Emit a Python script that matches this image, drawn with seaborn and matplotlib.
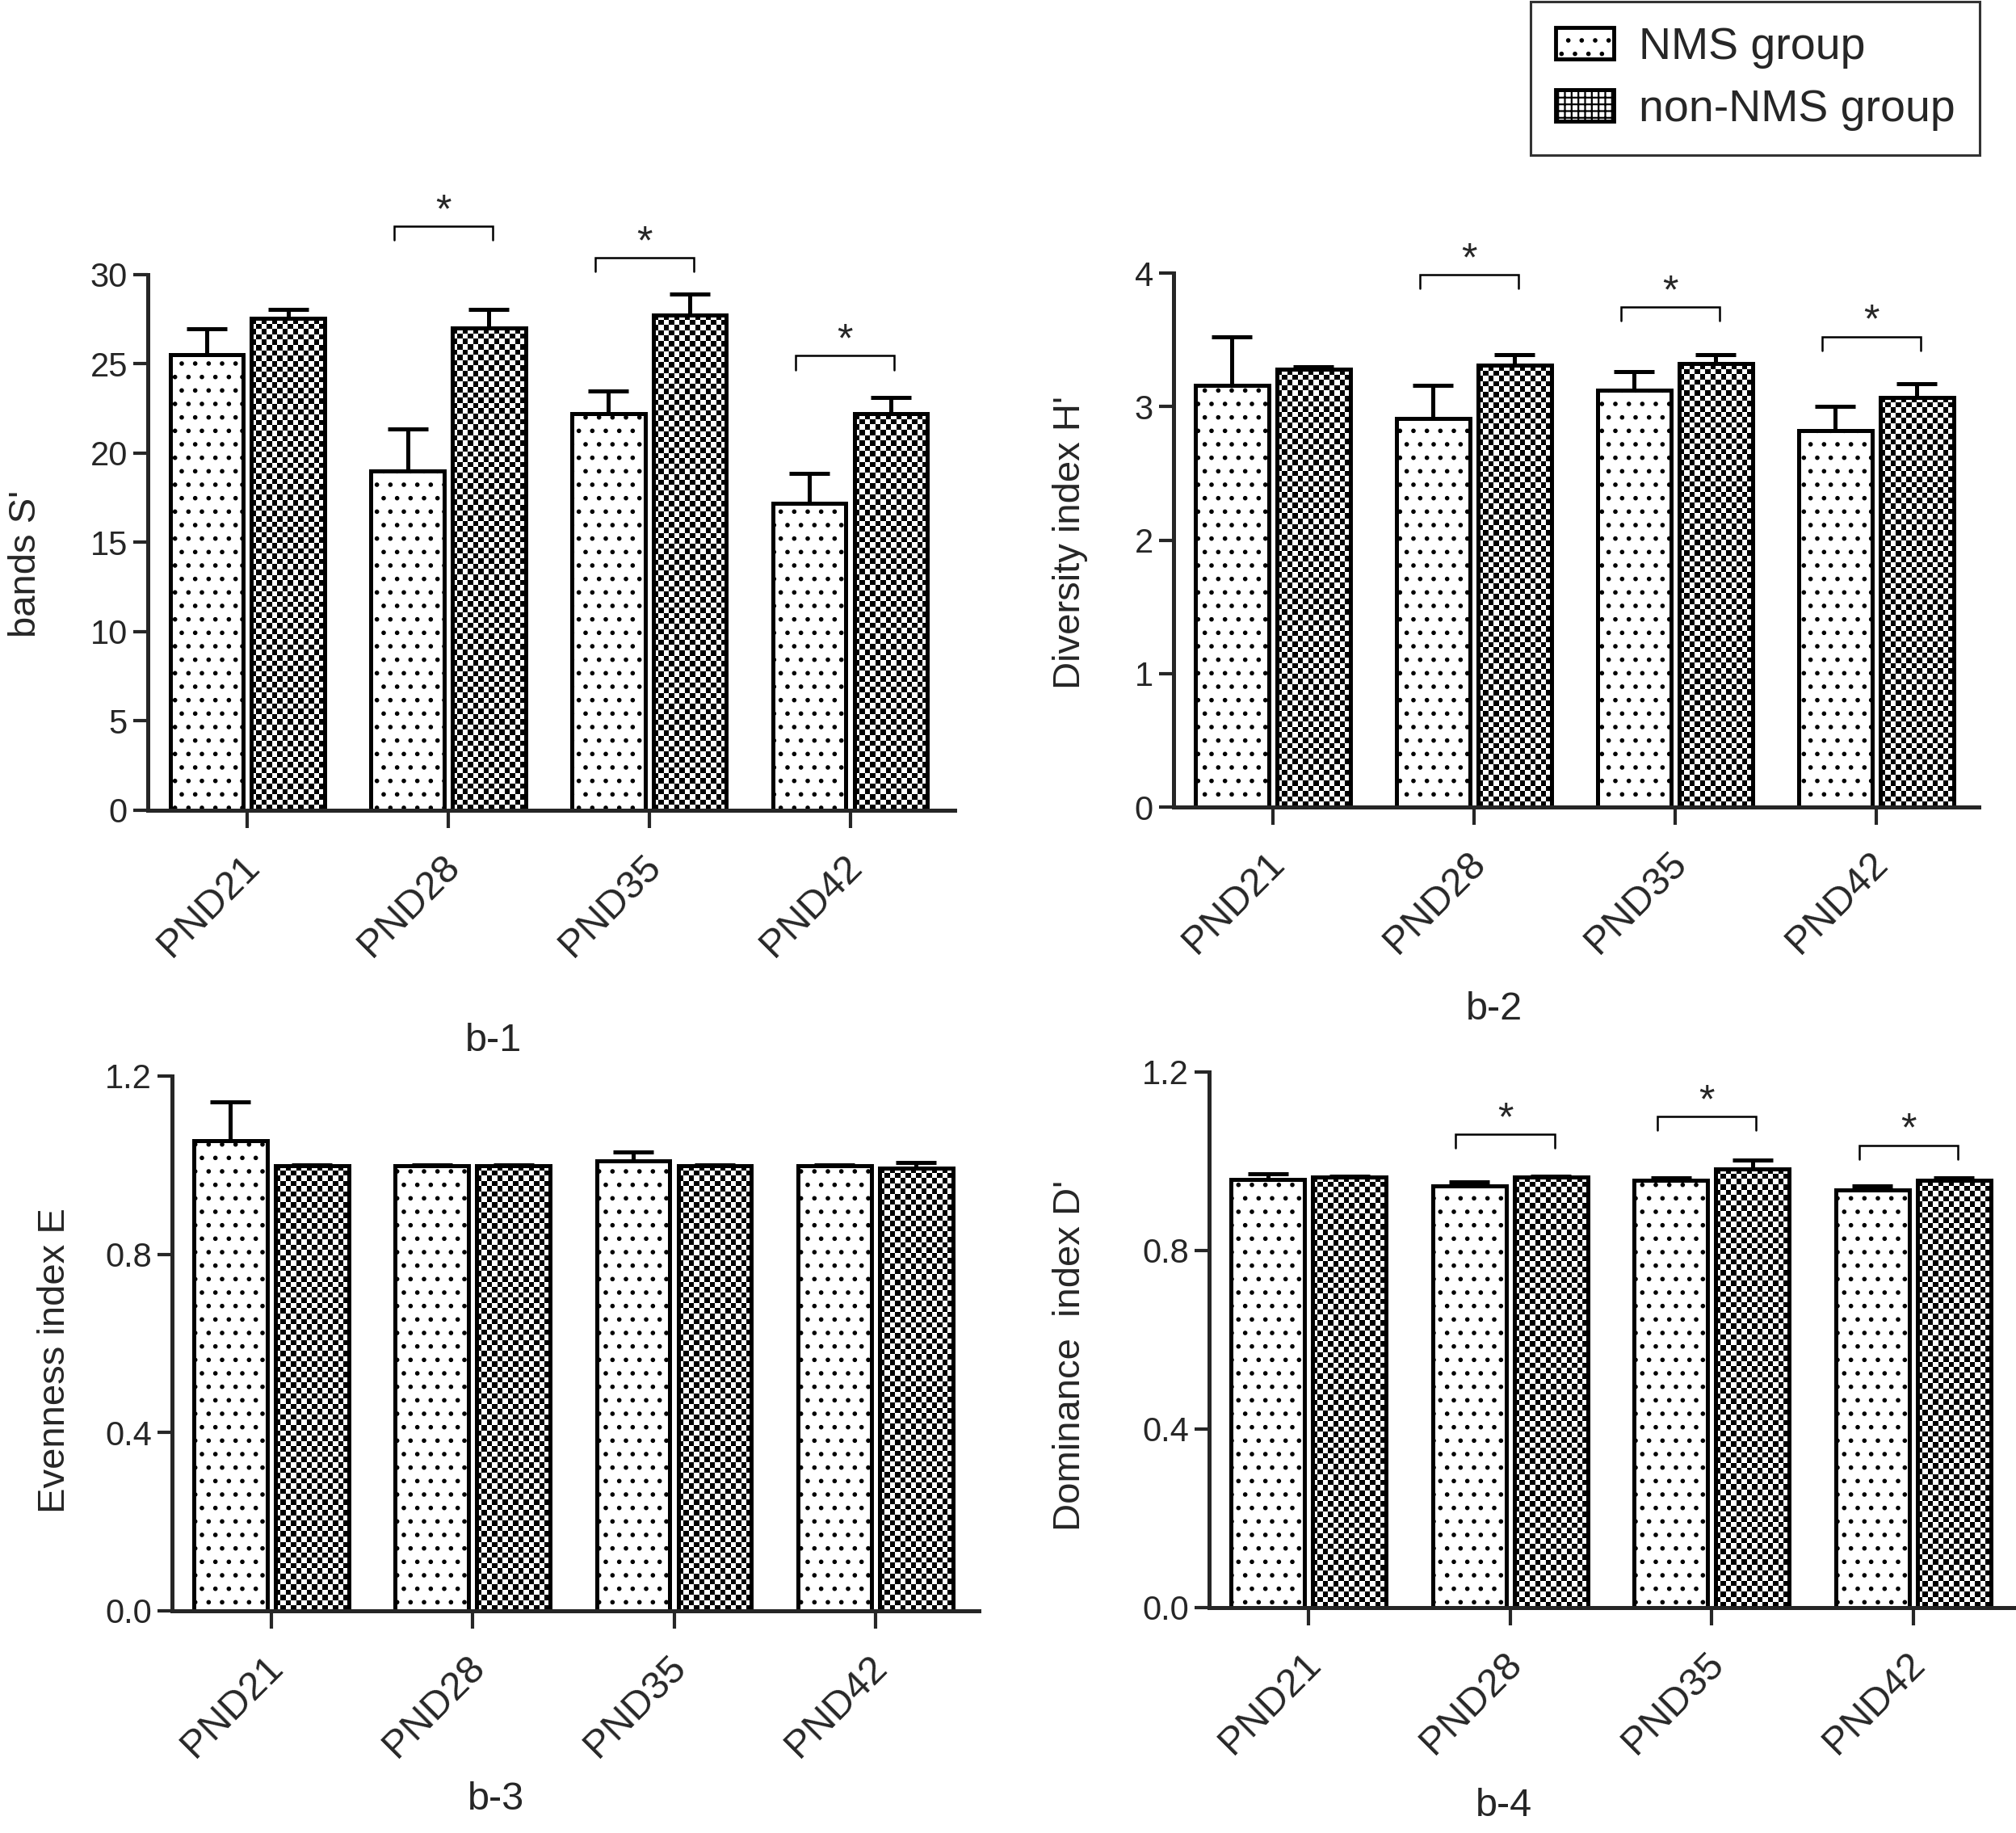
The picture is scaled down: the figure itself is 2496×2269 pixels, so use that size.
"""
Bacterial community indices (bands, diversity, evenness, dominance)
for NMS vs non-NMS groups at four postnatal days.
"""

import numpy as np
import pandas as pd
import matplotlib
matplotlib.use("Agg")
import matplotlib.pyplot as plt
import matplotlib.patches as mpatches
import matplotlib.transforms as mtransforms
import seaborn as sns

# ----------------------------------------------------------------------------
# Data
# ----------------------------------------------------------------------------
time_points = ['PND21', 'PND28', 'PND35', 'PND42']
groups = ['NMS group', 'non-NMS group']

# b-1: bands S'
bands_nms = [25.5, 19.0, 22.2, 17.2]
bands_nms_err = [1.45, 2.35, 1.3, 1.65]
bands_non = [27.55, 27.0, 27.75, 22.2]
bands_non_err = [0.5, 1.05, 1.15, 0.9]
bands_sig = [None, 32.7, 30.95, 25.45]

# b-2: diversity index H'
div_nms = [3.16, 2.91, 3.12, 2.82]
div_nms_err = [0.36, 0.25, 0.14, 0.18]
div_non = [3.28, 3.31, 3.32, 3.07]
div_non_err = [0.02, 0.08, 0.07, 0.1]
div_sig = [None, 3.99, 3.745, 3.525]

# b-3: evenness index E
even_nms = [1.054, 0.999, 1.009, 0.999]
even_nms_err = [0.088, 0.002, 0.021, 0.002]
even_non = [0.999, 0.999, 0.999, 0.994]
even_non_err = [0.002, 0.002, 0.002, 0.011]
even_sig = [None, None, None, None]

# b-4: dominance index D'
dom_nms = [0.959, 0.944, 0.957, 0.936]
dom_nms_err = [0.012, 0.010, 0.006, 0.008]
dom_non = [0.965, 0.965, 0.983, 0.957]
dom_non_err = [0.002, 0.002, 0.019, 0.005]
dom_sig = [None, 1.06, 1.10, 1.036]

# ----------------------------------------------------------------------------
# Style
# ----------------------------------------------------------------------------
sns.set_style("ticks")
plt.rcParams['font.family'] = ['Liberation Sans', 'DejaVu Sans']
plt.rcParams['hatch.linewidth'] = 1.6
plt.rcParams['hatch.color'] = 'black'

LW = 3.6
CELL_PX = 6.6   # checkerboard cell size in pixels

fig = plt.figure(figsize=(24.96, 22.69), dpi=100)

panels = [
    dict(rect=[0.0733, 0.5580, 0.4002, 0.2922], xlim=(-0.496, 3.52),
         nms=bands_nms, nms_err=bands_nms_err, non=bands_non, non_err=bands_non_err,
         sig=bands_sig, yticks=[0, 5, 10, 15, 20, 25, 30], fmt='{:.0f}',
         ylabel="bands S'", lab=(-0.129, 0.46), tag='b-1', tagpos=(0.2449, 0.432)),
    dict(rect=[0.5821, 0.5597, 0.3994, 0.2913], xlim=(-0.494, 3.51),
         nms=div_nms, nms_err=div_nms_err, non=div_non, non_err=div_non_err,
         sig=div_sig, yticks=[0, 1, 2, 3, 4], fmt='{:.0f}',
         ylabel="Diversity index H'", lab=(-0.106, 0.496), tag='b-2', tagpos=(0.741, 0.4495)),
    dict(rect=[0.0853, 0.1212, 0.4002, 0.2918], xlim=(-0.493, 3.513),
         nms=even_nms, nms_err=even_nms_err, non=even_non, non_err=even_non_err,
         sig=even_sig, yticks=[0.0, 0.4, 0.8, 1.2], fmt='{:.1f}',
         ylabel="Evenness index E", lab=(-0.123, 0.468), tag='b-3', tagpos=(0.2462, 0.0182)),
    dict(rect=[0.5998, 0.1230, 0.4002, 0.2922], xlim=(-0.493, 3.509),
         nms=dom_nms, nms_err=dom_nms_err, non=dom_non, non_err=dom_non_err,
         sig=dom_sig, yticks=[0.0, 0.4, 0.8, 1.2], fmt='{:.1f}',
         ylabel="Dominance  index D'", lab=(-0.150, 0.471), tag='b-4', tagpos=(0.746, 0.0147)),
]


def checker_fill(ax, bar):
    """Fill a bar with a black/white checkerboard clipped to the bar."""
    x0, y0 = bar.get_x(), bar.get_y()
    x1, y1 = x0 + bar.get_width(), y0 + bar.get_height()
    (px0, py0), (px1, py1) = ax.transData.transform([(x0, y0), (x1, y1)])
    nx = max(1, int(round((px1 - px0) / CELL_PX)))
    ny = max(1, int(round((py1 - py0) / CELL_PX)))
    img = np.add.outer(np.arange(ny), np.arange(nx)) % 2
    im = ax.imshow(img, cmap='gray', vmin=0, vmax=1, extent=(x0, x1, y0, y1),
                   origin='upper', aspect='auto', interpolation='nearest',
                   zorder=1.5)
    im.set_clip_path(bar)


shift = mtransforms.ScaledTranslation(-6 / 72, 0, fig.dpi_scale_trans)

for p in panels:
    ax = fig.add_axes(p['rect'])
    df = pd.DataFrame({
        'time': time_points * 2,
        'group': [groups[0]] * 4 + [groups[1]] * 4,
        'value': list(p['nms']) + list(p['non']),
        'err': list(p['nms_err']) + list(p['non_err']),
    })
    sns.barplot(data=df, x='time', y='value', hue='group', order=time_points,
                hue_order=groups, palette=['white', 'white'], edgecolor='black',
                linewidth=LW, width=0.81, gap=0.1, errorbar=None, legend=False,
                saturation=1, ax=ax)

    ymax = p['yticks'][-1]
    ax.set_ylim(0, ymax)
    ax.set_xlim(*p['xlim'])

    # textures + error bars, per hue level
    for container, g in zip(ax.containers, groups):
        sub = df[df['group'] == g].set_index('time').loc[time_points]
        bars = sorted(container.patches, key=lambda b: b.get_x())
        xs, ys = [], []
        for bar in bars:
            bar.set_zorder(2)
            if g == 'NMS group':
                bar.set_hatch('.')
            else:
                bar.set_facecolor('none')
                checker_fill(ax, bar)
            xs.append(bar.get_x() + bar.get_width() / 2)
            ys.append(bar.get_height())
        errs = sub['err'].values
        ax.errorbar(xs, ys, yerr=[np.zeros(len(errs)), errs], fmt='none',
                    ecolor='black', elinewidth=LW, capsize=18, capthick=LW,
                    zorder=1)

    ax.set_ylim(0, ymax)
    ax.set_xlim(*p['xlim'])
    ax.set_yticks(p['yticks'])
    ax.set_yticklabels([p['fmt'].format(t) for t in p['yticks']])
    ax.set_xlabel('')
    ax.set_ylabel(p['ylabel'], fontsize=34)
    ax.yaxis.set_label_coords(*p['lab'])

    sns.despine(ax=ax)
    for s in ['left', 'bottom']:
        ax.spines[s].set_linewidth(LW)
    ax.tick_params(axis='y', length=13, width=3, labelsize=30, pad=5)
    ax.tick_params(axis='x', length=16, width=3, labelsize=35, pad=18)
    for lbl in ax.get_xticklabels():
        lbl.set_rotation(45)
        lbl.set_ha('right')
        lbl.set_va('top')
        lbl.set_rotation_mode('anchor')
        lbl.set_transform(lbl.get_transform() + shift)

    # significance brackets
    leg = 0.026 * ymax
    for i, yb in enumerate(p['sig']):
        if yb is None:
            continue
        x0, x1 = i - 0.27, i + 0.22
        ax.plot([x0, x0, x1, x1], [yb - leg, yb, yb, yb - leg], color='black',
                lw=1.8, clip_on=False, solid_joinstyle='miter')
        ax.text((x0 + x1) / 2, yb - 0.008 * ymax, '*', ha='center', va='bottom',
                fontsize=36, clip_on=False)

    fig.text(p['tagpos'][0], p['tagpos'][1], p['tag'], ha='center', va='center',
             fontsize=35)

# legend
handles = [
    mpatches.Patch(facecolor='white', edgecolor='black', linewidth=3.5,
                   hatch='.', label=groups[0]),
    mpatches.Patch(facecolor='white', edgecolor='black', linewidth=3.5,
                   hatch='++', label=groups[1]),
]
lg = fig.legend(handles=handles, loc='upper right', bbox_to_anchor=(0.982, 0.999),
                fontsize=40, frameon=True, fancybox=False, edgecolor='black',
                handlelength=1.3, handleheight=0.7, handletextpad=0.55,
                borderpad=0.55, labelspacing=0.45, borderaxespad=0)
lg.get_frame().set_linewidth(2.2)

fig.savefig('out.png', dpi=100)
